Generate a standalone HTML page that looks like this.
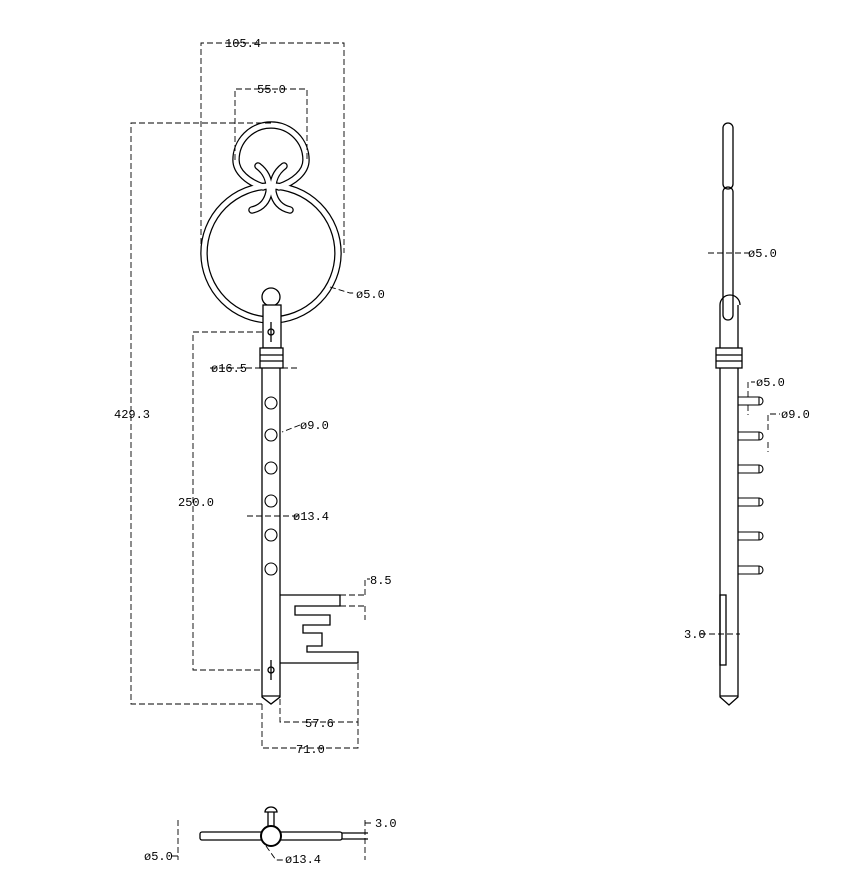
<!DOCTYPE html>
<html><head><style>body{margin:0;background:#fff}svg{display:block}text{font-family:"Liberation Mono",monospace;font-size:12px;fill:#000}</style></head>
<body>
<svg width="861" height="889" viewBox="0 0 861 889" xmlns="http://www.w3.org/2000/svg">
<g fill="none" stroke="#000" stroke-width="1.3">
<!-- bow tubes -->
<g stroke="#000" stroke-width="7.5" stroke-linecap="round">
<circle cx="271" cy="253" r="67"/>
<path d="M263 187 C248 182 236 172 236 160 A35 35 0 0 1 306 160 C306 172 294 182 279 187"/>
<path d="M258 166 C266 172 270 180 269 192 C267 202 261 208 252 210"/>
<path d="M284 166 C276 172 272 180 273 192 C275 202 281 208 290 210"/>
</g>
<g stroke="#fff" stroke-width="5" stroke-linecap="round">
<circle cx="271" cy="253" r="67"/>
<path d="M263 187 C248 182 236 172 236 160 A35 35 0 0 1 306 160 C306 172 294 182 279 187"/>
<path d="M258 166 C266 172 270 180 269 192 C267 202 261 208 252 210"/>
<path d="M284 166 C276 172 272 180 273 192 C275 202 281 208 290 210"/>
</g>
<!-- knob and shaft -->
<circle cx="271" cy="297" r="9" fill="#fff"/>
<rect x="263" y="305" width="18" height="43" fill="#fff"/>
<rect x="260" y="348" width="23" height="20" fill="#fff"/>
<line x1="260" y1="355" x2="283" y2="355"/><line x1="260" y1="361" x2="283" y2="361"/>
<path d="M262 368 L262 697 L271 704 L280 697 L280 368"/>
<line x1="262" y1="696" x2="280" y2="696"/>
<g stroke-width="1.1"><circle cx="271" cy="403" r="6"/><circle cx="271" cy="435" r="6"/><circle cx="271" cy="468" r="6"/><circle cx="271" cy="501" r="6"/><circle cx="271" cy="535" r="6"/><circle cx="271" cy="569" r="6"/></g>
<path d="M280 595 L340 595 L340 606 L295 606 L295 615 L330 615 L330 625 L303 625 L303 633 L322 633 L322 646 L307 646 L307 652 L358 652 L358 663 L280 663"/>
<circle cx="271" cy="332" r="3"/><line x1="271" y1="322" x2="271" y2="342"/>
<circle cx="271" cy="670" r="3"/><line x1="271" y1="660" x2="271" y2="680"/>
<!-- side view -->
<rect x="723" y="123" width="10" height="66" rx="5"/>
<rect x="723" y="187" width="10" height="133" rx="5"/>
<path d="M720 305 A9 9 0 1 1 740 305"/>
<path d="M720 305 L720 697 L729 705 L738 697 L738 305"/>
<line x1="720" y1="696" x2="738" y2="696"/>
<rect x="716" y="348" width="26" height="20" fill="#fff"/>
<line x1="716" y1="355" x2="742" y2="355"/><line x1="716" y1="361" x2="742" y2="361"/>
<g stroke-width="1.1">
<path d="M738 397h21v8h-21M759 397a4 4 0 0 1 0 8"/>
<path d="M738 432h21v8h-21M759 432a4 4 0 0 1 0 8"/>
<path d="M738 465h21v8h-21M759 465a4 4 0 0 1 0 8"/>
<path d="M738 498h21v8h-21M759 498a4 4 0 0 1 0 8"/>
<path d="M738 532h21v8h-21M759 532a4 4 0 0 1 0 8"/>
<path d="M738 566h21v8h-21M759 566a4 4 0 0 1 0 8"/>
</g>
<rect x="720" y="595" width="6" height="70"/>
<!-- bottom view -->
<rect x="200" y="832" width="142" height="8" rx="2"/>
<line x1="342" y1="833" x2="368" y2="833"/><line x1="342" y1="839" x2="368" y2="839"/>
<line x1="268" y1="812" x2="268" y2="828"/><line x1="274" y1="812" x2="274" y2="828"/>
<path d="M265 812 A6 5 0 0 1 277 812 Z"/>
<circle cx="271" cy="836" r="10" fill="#fff" stroke-width="2"/>
</g>
<g fill="none" stroke="#000" stroke-width="0.9" stroke-dasharray="6,3">
<path d="M201 253 V43 H344 V253"/>
<path d="M235 160 V89 H307 V160"/>
<path d="M271 123 H131 V704 H262"/>
<path d="M262 332 H193 V670 H262"/>
<path d="M280 663 V722 H358 V663"/>
<path d="M262 704 V748 H358 V722"/>
<path d="M340 595 H365 M340 606 H365 M365 595 V579 H370 M365 606 V620"/>
<path d="M210 368 H300"/>
<path d="M247 516 H300"/>
<path d="M300 425 L282 432 M330 287 L350 293 H355"/>
<path d="M708 253 H750"/>
<path d="M748 397 V382 H755 M748 405 V415"/>
<path d="M768 430 V414 H780 M768 442 V452"/>
<path d="M700 634 H740"/>
<path d="M178 820 V860 M178 856 H172 M365 820 V860 M365 823 H372 M266 846 L276 860 H285"/>
</g>
<text x="225" y="47" font-size="12">105.4</text>
<text x="257" y="93">55.0</text>
<text x="114" y="418">429.3</text>
<text x="178" y="506">250.0</text>
<text x="211" y="372">ø16.5</text>
<text x="300" y="429">ø9.0</text>
<text x="293" y="520">ø13.4</text>
<text x="356" y="298">ø5.0</text>
<text x="370" y="584">8.5</text>
<text x="305" y="727">57.6</text>
<text x="296" y="753">71.0</text>
<text x="748" y="257">ø5.0</text>
<text x="756" y="386">ø5.0</text>
<text x="781" y="418">ø9.0</text>
<text x="684" y="638">3.0</text>
<text x="144" y="860">ø5.0</text>
<text x="285" y="863">ø13.4</text>
<text x="375" y="827">3.0</text>
</svg>
</body></html>
